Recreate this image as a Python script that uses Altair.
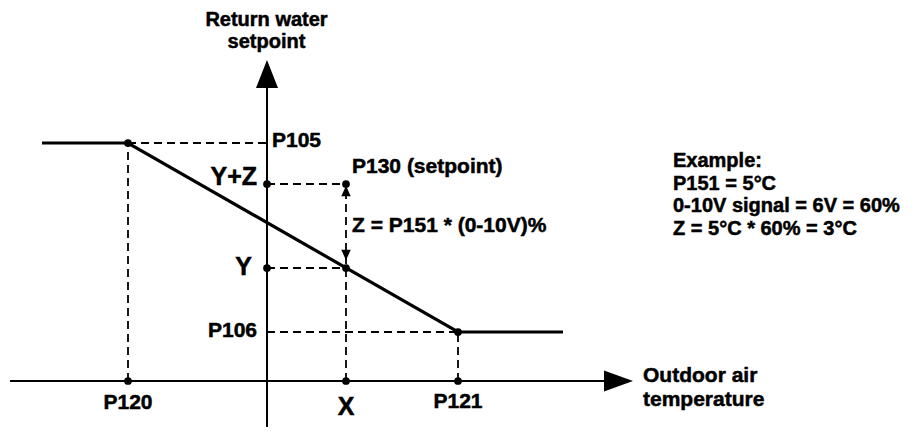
import altair as alt
import pandas as pd

# ---- diagram values (origin = crossing of the two axes, 1 unit = 10 px) ----
X_DOMAIN = [-25.9, 64.6]
Y_DOMAIN = [-4.6, 37.3]

P120_X, X_X, P121_X = -13.9, 7.9, 19.1
P105_Y, YZ_Y, Y_Y, P106_Y = 23.8, 19.7, 11.3, 4.9

curve_x = [-22.5, P120_X, P121_X, 29.6]
curve_y = [P105_Y, P105_Y, P106_Y, P106_Y]

axis_x = [-25.7, 33.7]          # horizontal axis extent (y = 0)
axis_y = [-5.3, 29.3]           # vertical axis extent (x = 0)

dash_x = [P120_X, 0, 0, 0, P120_X, X_X, P121_X]
dash_x2 = [0, X_X, X_X, P121_X, P120_X, X_X, P121_X]
dash_y = [P105_Y, YZ_Y, Y_Y, P106_Y, 0, 0, 0]
dash_y2 = [P105_Y, YZ_Y, Y_Y, P106_Y, P105_Y, YZ_Y, P106_Y]

dot_x = [P120_X, 0, X_X, 0, X_X, P121_X, P120_X, X_X, P121_X]
dot_y = [P105_Y, YZ_Y, YZ_Y, Y_Y, Y_Y, P106_Y, 0, 0, 0]

arrow_x = [0, 35.15, X_X, X_X]
arrow_y = [30.7, 0, 19.0, 12.6]
arrow_shape = [
    "M0,-1L0.786,1L-0.786,1Z",
    "M1,0L-1,-0.724L-1,0.724Z",
    "M0,-1L0.9,1L-0.9,1Z",
    "M0,1L0.9,-1L-0.9,-1Z",
]
arrow_size = [784, 841, 110, 110]

label_text = [
    "Return water", "setpoint", "P105", "Y+Z", "P130 (setpoint)",
    "Z = P151 * (0-10V)%", "Y", "P106", "P120", "X", "P121",
    "Outdoor air", "temperature", "Example:", "P151 = 5°C",
    "0-10V signal = 6V = 60%", "Z = 5°C * 60% = 3°C",
]
label_x = [-0.05, -0.05, 0.5, -1.0, 8.5, 8.5, -1.5, -1.0, P120_X, X_X, P121_X,
           37.6, 37.6, 40.6, 40.6, 40.6, 40.6]
label_y = [35.5, 33.3, 23.4, 19.6, 20.8, 14.9, 10.6, 4.4, -2.8, -3.4, -2.7,
           -0.07, -2.5, 21.4, 19.1, 16.9, 14.6]
label_align = ["center", "center", "left", "right", "left", "left", "right", "right",
               "center", "center", "center", "left", "left", "left", "left", "left", "left"]
label_size = [20, 20, 21, 25, 21, 21, 25, 21, 21, 25, 21, 21, 21, 20, 20, 20, 20]

# ---- tables ----
curve = pd.DataFrame({"x": curve_x, "y": curve_y, "i": range(len(curve_x))})
axes = pd.DataFrame({"x": [axis_x[0], 0], "x2": [axis_x[1], 0],
                     "y": [0, axis_y[0]], "y2": [0, axis_y[1]]})
dashes = pd.DataFrame({"x": dash_x, "x2": dash_x2, "y": dash_y, "y2": dash_y2})
dots = pd.DataFrame({"x": dot_x, "y": dot_y})
arrows = pd.DataFrame({"x": arrow_x, "y": arrow_y, "shape": arrow_shape, "size": arrow_size})
labels = pd.DataFrame({"x": label_x, "y": label_y, "text": label_text,
                       "align": label_align, "size": label_size})

xs = alt.Scale(domain=X_DOMAIN, nice=False, zero=False)
ys = alt.Scale(domain=Y_DOMAIN, nice=False, zero=False)
X = alt.X("x:Q", scale=xs, axis=None)
Y = alt.Y("y:Q", scale=ys, axis=None)

ink = "#000000"

axis_layer = alt.Chart(axes).mark_rule(color=ink, strokeWidth=2).encode(
    x=X, x2="x2:Q", y=Y, y2="y2:Q")

dash_layer = alt.Chart(dashes).mark_rule(color=ink, strokeWidth=1.8, strokeDash=[8, 5]).encode(
    x=X, x2="x2:Q", y=Y, y2="y2:Q")

curve_layer = alt.Chart(curve).mark_line(color=ink, strokeWidth=3.2).encode(
    x=X, y=Y, order="i:Q")

dot_layer = alt.Chart(dots).mark_circle(color=ink, size=60, opacity=1).encode(x=X, y=Y)

arrow_layer = alt.Chart(arrows).mark_point(filled=True, color=ink, opacity=1, strokeWidth=0).encode(
    x=X, y=Y,
    shape=alt.Shape("shape:N", scale=None),
    size=alt.Size("size:Q", scale=None),
)

text_layers = []
for al in ["left", "center", "right"]:
    text_layers.append(
        alt.Chart(labels).transform_filter(alt.datum.align == al).mark_text(
            align=al, baseline="alphabetic", font="Liberation Sans",
            fontWeight="bold", color=ink, stroke=ink, strokeWidth=0.5,
        ).encode(x=X, y=Y, text="text:N", size=alt.Size("size:Q", scale=None))
    )

chart = alt.layer(
    dash_layer, axis_layer, curve_layer, dot_layer, arrow_layer, *text_layers
).properties(
    width=905, height=419, autosize=alt.AutoSizeParams(type="none"), padding=0,
    background="white",
).configure_view(stroke=None)

chart.save("out.html", embed_options={"renderer": "svg", "actions": False})
